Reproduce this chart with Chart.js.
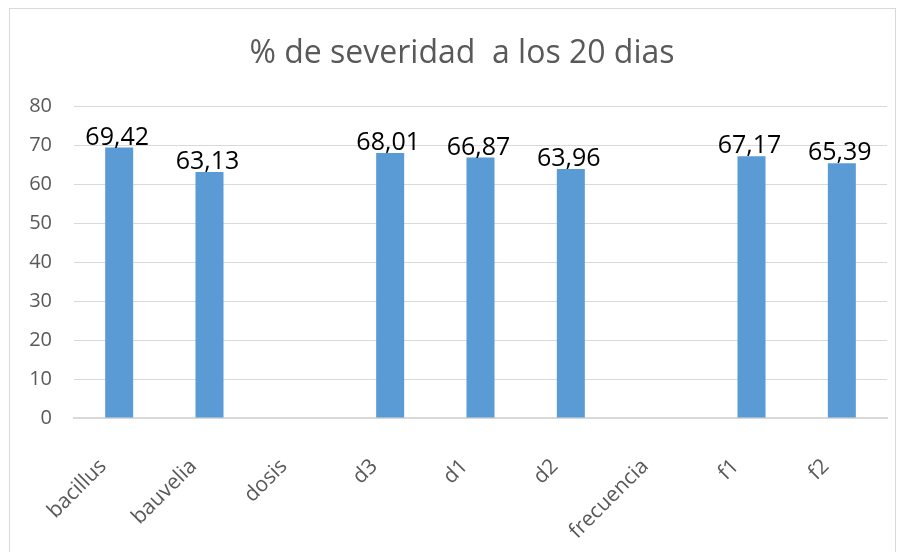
<!DOCTYPE html>
<html><head><meta charset="utf-8">
<script src="https://cdn.jsdelivr.net/npm/chart.js@4/dist/chart.umd.min.js"></script>
<style>
html,body{margin:0;padding:0;background:#fff;}
#wrap{position:relative;width:903px;height:552px;}
#frame{position:absolute;left:9px;top:8px;width:887px;height:545px;border:1px solid #d9d9d9;box-sizing:border-box;}
canvas{position:absolute;left:0;top:0;}
</style></head>
<body><div id="wrap"><div id="frame"></div><canvas id="c" width="903" height="552"></canvas></div>
<script>
const categories = ["bacillus","bauvelia","dosis","d3","d1","d2","frecuencia","f1","f2"];
const severidad = [69.42, 63.13, null, 68.01, 66.87, 63.96, null, 67.17, 65.39];
const yTicks = [0,10,20,30,40,50,60,70,80];
const titleText = "% de severidad  a los 20 dias";
const FONT = '"Open Sans", Lato, sans-serif';

const labelPlugin = {
  id:'valueLabels',
  afterLayout(chart){
    // Center the title over the frame area like the reference
    if(chart.titleBlock){ chart.titleBlock.left = 37; chart.titleBlock.right = 887; }
  },
  afterDatasetsDraw(chart){
    const ctx = chart.ctx;
    const meta = chart.getDatasetMeta(0);
    ctx.save();
    ctx.font = '25px ' + FONT;
    ctx.fillStyle = '#000';
    ctx.textAlign = 'center';
    ctx.textBaseline = 'alphabetic';
    meta.data.forEach((el,i)=>{
      const v = severidad[i];
      if(v===null||v===undefined) return;
      ctx.fillText(v.toFixed(2).replace('.',','), el.x - 2, el.y - 3);
    });
    ctx.restore();
  }
};

new Chart(document.getElementById('c'),{
  type:'bar',
  data:{labels:categories,datasets:[{data:severidad,backgroundColor:'#5b9bd5',borderWidth:0,categoryPercentage:0.8,barPercentage:0.3875}]},
  options:{
    responsive:false,animation:false,
    layout:{padding:{left:0,right:16,top:0,bottom:0}},
    plugins:{
      legend:{display:false},tooltip:{enabled:false},
      title:{display:true,text:titleText,color:'#595959',font:{family:FONT,size:32,weight:'400'},padding:{top:35,bottom:33}}
    },
    scales:{
      y:{min:0,max:80,
        afterBuildTicks(s){s.ticks=yTicks.map(v=>({value:v}));},
        afterFit(s){s.width=74;},
        ticks:{color:'#595959',font:{family:FONT,size:20},padding:22},
        grid:{color:'#d9d9d9',drawTicks:false},border:{display:false}},
      x:{
        afterFit(s){s.height=134;},
        ticks:{color:'#595959',font:{family:FONT,size:21},maxRotation:45,minRotation:45,padding:36,labelOffset:-16,autoSkip:false},
        grid:{display:false,drawTicks:false},border:{color:'#d9d9d9',width:2}}
    }
  },
  plugins:[labelPlugin]
});
</script></body></html>
